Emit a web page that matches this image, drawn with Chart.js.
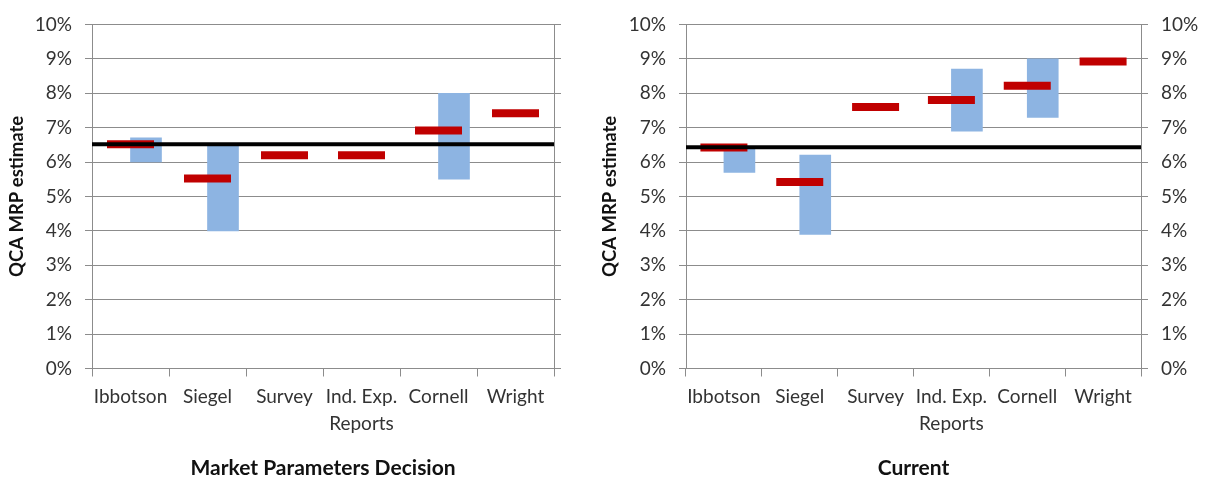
<!DOCTYPE html>
<html>
<head>
<meta charset="utf-8">
<script src="https://cdn.jsdelivr.net/npm/chart.js@4/dist/chart.umd.min.js"></script>
<style>
  html, body { margin: 0; padding: 0; background: #fff; }
  #wrap { position: relative; width: 1207px; height: 479px; }
  .box { position: absolute; top: 0; height: 479px; }
  #boxA { left: 0; width: 600px; }
  #boxB { left: 600px; width: 607px; }
</style>
</head>
<body>
<div id="wrap">
  <div class="box" id="boxA"><canvas id="chartA"></canvas></div>
  <div class="box" id="boxB"><canvas id="chartB"></canvas></div>
</div>
<script>
// Estimate sources shown on both panels
const categories = ['Ibbotson', 'Siegel', 'Survey', ['Ind. Exp.', 'Reports'], 'Cornell', 'Wright'];
const yTickValues = [0, 1, 2, 3, 4, 5, 6, 7, 8, 9, 10];

// Panel 1: Market Parameters Decision
const decisionRangeLow  = [6.0, 4.0, null, null, 5.5, null];
const decisionRangeHigh = [6.7, 6.5, null, null, 8.0, null];
const decisionPoint     = [6.52, 5.52, 6.2, 6.2, 6.92, 7.42];
const decisionMRP       = 6.52;

// Panel 2: Current
const currentRangeLow  = [5.7, 3.9, null, 6.9, 7.3, null];
const currentRangeHigh = [6.45, 6.2, null, 8.7, 9.0, null];
const currentPoint     = [6.42, 5.42, 7.6, 7.8, 8.22, 8.92];
const currentMRP       = 6.43;

const GRID = '#8c8c8c';
const TEXT = '#333333';
const FONT = 'Lato, "Open Sans", sans-serif';

function makePanel(canvasId, opts) {
  const ranges = opts.low.map((lo, i) => (lo === null ? null : [lo, opts.high[i]]));
  const scales = {
    x: {
      type: 'category',
      offset: true,
      grid: { offset: true, drawOnChartArea: false, tickLength: 8, color: GRID, tickColor: GRID, lineWidth: 1 },
      border: { color: GRID, width: 1 },
      ticks: { color: TEXT, padding: 7, font: { family: FONT, size: 19, lineHeight: 1.4 }, maxRotation: 0, autoSkip: false },
      title: { display: true, text: opts.title, color: '#111', padding: { top: 0, bottom: 0 },
               font: { family: FONT, size: 21, weight: 'bold', lineHeight: 1.0 } },
      afterFit: s => { s.height = 110.5; }
    },
    // hidden 0..1 axis so the reference line spans the full plot width
    xLine: { type: 'linear', display: false, offset: false, min: 0, max: 1, grid: { offset: false } },
    y: {
      position: 'left',
      min: 0, max: 10,
      afterBuildTicks: s => { s.ticks = yTickValues.map(v => ({ value: v })); },
      grid: { color: GRID, tickColor: GRID, tickLength: 7, lineWidth: 1 },
      border: { color: GRID, width: 1 },
      ticks: { color: TEXT, padding: 13, font: { family: FONT, size: 19, lineHeight: 1.2 }, callback: v => v + '%' },
      title: { display: true, text: 'QCA MRP estimate', color: '#111', padding: 0,
               font: { family: FONT, size: 18.5, weight: 'bold', lineHeight: 1.0 } },
      afterFit: s => { s.width = opts.leftWidth; }
    },
    y2: {
      position: 'right',
      min: 0, max: 10,
      afterBuildTicks: s => { s.ticks = yTickValues.map(v => ({ value: v })); },
      grid: { drawOnChartArea: false, tickColor: GRID, tickLength: 7, lineWidth: 1 },
      border: { color: GRID, width: 1 },
      ticks: { display: opts.rightLabels, color: TEXT, padding: 13, font: { family: FONT, size: 19, lineHeight: 1.2 }, callback: v => v + '%' },
      afterFit: s => { s.width = opts.rightWidth; }
    }
  };

  return new Chart(document.getElementById(canvasId), {
    type: 'bar',
    data: {
      labels: categories,
      datasets: [
        {
          type: 'line',
          label: 'MRP',
          xAxisID: 'xLine',
          yAxisID: 'y',
          data: [{ x: 0, y: opts.mrp }, { x: 1, y: opts.mrp }],
          borderColor: '#000',
          borderWidth: 4,
          pointRadius: 0,
          order: 0
        },
        {
          type: 'line',
          label: 'Point estimate',
          xAxisID: 'x',
          yAxisID: 'y',
          data: opts.point,
          showLine: false,
          pointStyle: 'line',
          pointRadius: 23.5,
          pointHoverRadius: 23.5,
          pointBorderWidth: 8,
          pointHoverBorderWidth: 8,
          borderColor: '#c00000',
          backgroundColor: '#c00000',
          order: 1
        },
        {
          type: 'bar',
          label: 'Range',
          xAxisID: 'x',
          yAxisID: 'y',
          data: ranges,
          backgroundColor: '#8db4e2',
          borderWidth: 0,
          barThickness: 31,
          order: 2
        }
      ]
    },
    options: {
      responsive: true,
      maintainAspectRatio: false,
      animation: false,
      layout: { autoPadding: false, padding: { top: 18.5, bottom: 0, left: opts.padLeft, right: opts.padRight } },
      plugins: {
        legend: { display: false },
        tooltip: { enabled: false },
        title: { display: false }
      },
      scales
    }
  });
}

makePanel('chartA', {
  low: decisionRangeLow, high: decisionRangeHigh, point: decisionPoint, mrp: decisionMRP,
  title: 'Market Parameters Decision',
  leftWidth: 84, padLeft: 8, rightWidth: 8, padRight: 38, rightLabels: false
});

makePanel('chartB', {
  low: currentRangeLow, high: currentRangeHigh, point: currentPoint, mrp: currentMRP,
  title: 'Current',
  leftWidth: 85, padLeft: 1, rightWidth: 66, padRight: 0, rightLabels: true
});
</script>
</body>
</html>
